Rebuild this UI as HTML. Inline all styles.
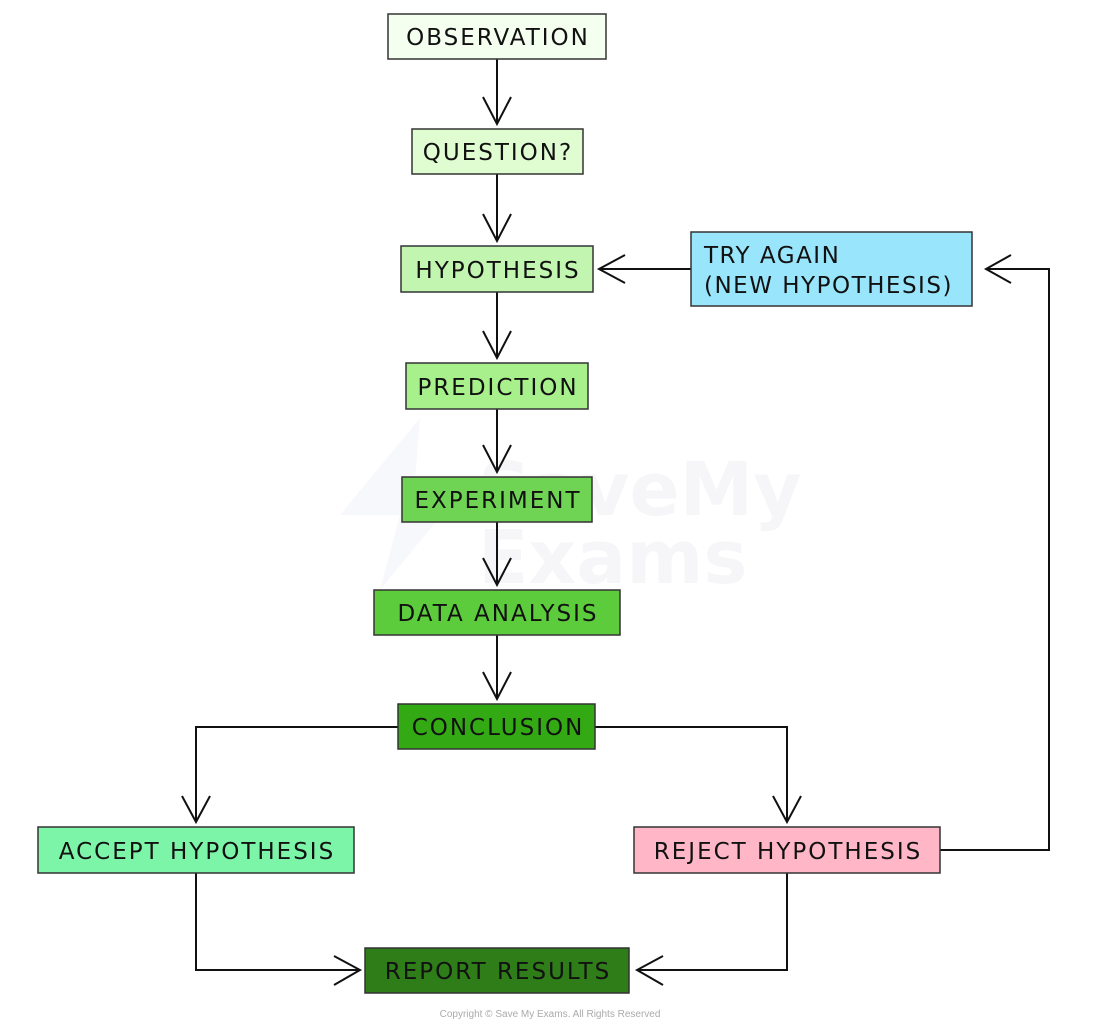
<!DOCTYPE html>
<html><head><meta charset="utf-8"><style>
html,body{margin:0;padding:0;background:#fff;}
svg{display:block;}
text{font-family:"DejaVu Sans","Liberation Sans",sans-serif;font-size:23px;fill:#111;letter-spacing:2px;}
</style></head><body>
<svg width="1100" height="1028" viewBox="0 0 1100 1028">
<text x="478" y="515" style="font-size:74px;font-weight:bold;fill:#f6f6f8;letter-spacing:0">SaveMy</text>
<text x="478" y="583" style="font-size:74px;font-weight:bold;fill:#f6f6f8;letter-spacing:0">Exams</text>
<polygon points="420,418 340,515 400,515 380,590 470,480 415,480" fill="#f7f8fc"/>

<g fill="none" stroke="#111" stroke-width="2">
<line x1="497" y1="59" x2="497" y2="124"/><polyline points="483,97 497,124 511,97"/>
<line x1="497" y1="174" x2="497" y2="241"/><polyline points="483,214 497,241 511,214"/>
<line x1="497" y1="292" x2="497" y2="358"/><polyline points="483,331 497,358 511,331"/>
<line x1="497" y1="409" x2="497" y2="472"/><polyline points="483,445 497,472 511,445"/>
<line x1="497" y1="522" x2="497" y2="585"/><polyline points="483,558 497,585 511,558"/>
<line x1="497" y1="635" x2="497" y2="699"/><polyline points="483,672 497,699 511,672"/>
<polyline points="398,727 196,727 196,822"/><polyline points="182,796 196,822 210,796"/>
<polyline points="595,727 787,727 787,822"/><polyline points="773,796 787,822 801,796"/>
<polyline points="196,873 196,970 360,970"/><polyline points="334,956 360,970 334,985"/>
<polyline points="787,873 787,970 637,970"/><polyline points="663,956 637,970 663,985"/>
<polyline points="940,850 1049,850 1049,269 986,269"/><polyline points="1011,255 986,269 1011,283"/>
<line x1="691" y1="269" x2="599" y2="269"/><polyline points="625,255 599,269 625,283"/>
</g>

<g stroke="#333" stroke-width="1.5">
<rect x="388" y="14" width="218" height="45" fill="#f5fff0"/>
<rect x="412" y="129" width="171" height="45" fill="#e0fdd2"/>
<rect x="401" y="246" width="192" height="46" fill="#c2f5b0"/>
<rect x="406" y="363" width="182" height="46" fill="#a8f08c"/>
<rect x="402" y="477" width="190" height="45" fill="#6fd354"/>
<rect x="374" y="590" width="246" height="45" fill="#5ccc3c"/>
<rect x="398" y="704" width="197" height="45" fill="#33aa14"/>
<rect x="38" y="827" width="316" height="46" fill="#7df5a8"/>
<rect x="634" y="827" width="306" height="46" fill="#ffb6c6"/>
<rect x="365" y="948" width="264" height="45" fill="#2e7d18"/>
<rect x="691" y="232" width="281" height="74" fill="#99e5fb"/>
</g>

<g text-anchor="middle">
<text x="498" y="45">OBSERVATION</text>
<text x="498" y="160">QUESTION?</text>
<text x="498" y="278">HYPOTHESIS</text>
<text x="498" y="395">PREDICTION</text>
<text x="498" y="508">EXPERIMENT</text>
<text x="498" y="621">DATA ANALYSIS</text>
<text x="498" y="735">CONCLUSION</text>
<text x="197" y="859">ACCEPT HYPOTHESIS</text>
<text x="788" y="859">REJECT HYPOTHESIS</text>
<text x="498" y="979">REPORT RESULTS</text>
</g>
<text x="704" y="263" style="letter-spacing:1.5px">TRY AGAIN</text>
<text x="704" y="293" style="letter-spacing:1.5px">(NEW HYPOTHESIS)</text>
<text x="550" y="1017" text-anchor="middle" style="font-size:10px;fill:#aaa;letter-spacing:0;font-family:'Liberation Sans',sans-serif">Copyright © Save My Exams. All Rights Reserved</text>
</svg>
</body></html>
